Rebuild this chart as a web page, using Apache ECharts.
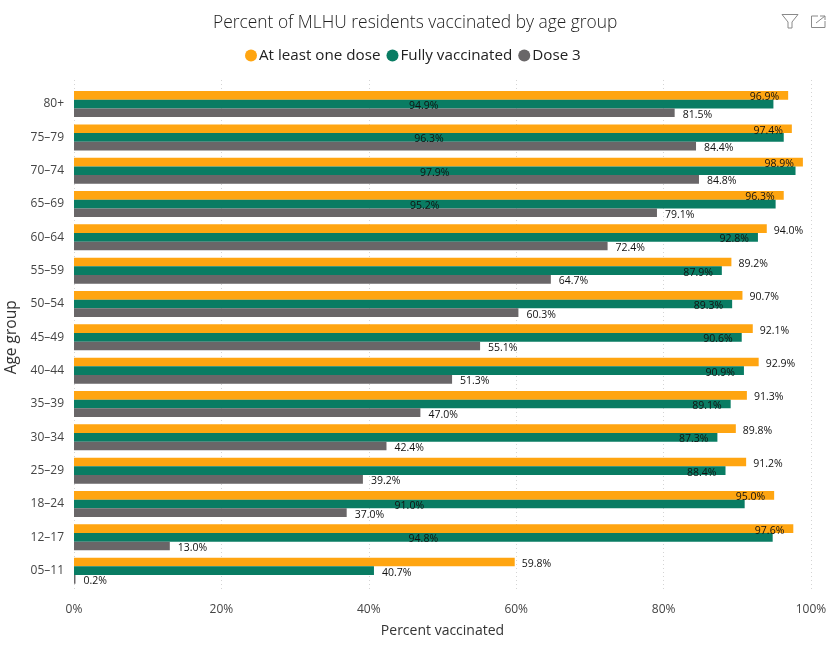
<!DOCTYPE html>
<html><head><meta charset="utf-8">
<style>html,body{margin:0;padding:0;background:#fff}#c{width:834px;height:648px}</style>
<script src="https://cdn.jsdelivr.net/npm/echarts@6/dist/echarts.min.js"></script>
</head><body><div id="c"></div>
<script>
const categories = ["80+","75–79","70–74","65–69","60–64","55–59","50–54","45–49","40–44","35–39","30–34","25–29","18–24","12–17","05–11"];
const atLeastOne = [96.9,97.4,98.9,96.3,94.0,89.2,90.7,92.1,92.9,91.3,89.8,91.2,95.0,97.6,59.8];
const fully = [94.9,96.3,97.9,95.2,92.8,87.9,89.3,90.6,90.9,89.1,87.3,88.4,91.0,94.8,40.7];
const dose3 = [81.5,84.4,84.8,79.1,72.4,64.7,60.3,55.1,51.3,47.0,42.4,39.2,37.0,13.0,0.2];

const FONT = '"Open Sans"';
const fmt = v => v.toFixed(1) + '%';
const lbl = (position, distance) => ({show:true, position, distance, offset:[0,2], color:'#111', fontSize:10.5, fontFamily:FONT, formatter:p=>fmt(p.value)});
const OUT = 8, INS = 9;
const orangeData = atLeastOne.map(v => ({value:v, label: v >= 95 ? lbl('insideRight',INS) : lbl('right',OUT-1)}));
const greenData = fully.map((v,i) => {
  const a = atLeastOne[i];
  const label = a >= 95 ? lbl('inside',0) : (a - v > 10 ? lbl('right',OUT) : lbl('insideRight',INS));
  return {value:v, label};
});
const greyData = dose3.map(v => ({value:v, label: lbl('right',OUT)}));
const bar = (name,color,data) => ({name,type:'bar',xAxisIndex:0,yAxisIndex:0,data,barGap:0,barCategoryGap:'22%',itemStyle:{color},animation:false});

const chart = echarts.init(document.getElementById('c'),null,{renderer:'canvas'});
const iconStroke = {stroke:'#8a8a8a',lineWidth:1,fill:'none'};
chart.setOption({
  animation:false,
  backgroundColor:'#fff',
  title:{text:'Percent of MLHU residents vaccinated by age group',left:213,top:15,padding:0,itemGap:0,
    textStyle:{fontFamily:FONT,fontWeight:300,fontSize:17.4,color:'#222'}},
  legend:{top:43,left:240,icon:'circle',itemWidth:12,itemHeight:12,itemGap:6,
    data:['At least one dose','Fully vaccinated','Dose 3'],
    textStyle:{fontFamily:FONT,fontSize:15.2,color:'#222',padding:[0,0,0,-3]}},
  grid:[
    {left:74,right:23,top:87.4,bottom:60.7,outerBoundsMode:'none'},
    {left:74,right:23,top:80,bottom:57,outerBoundsMode:'none'}
  ],
  xAxis:[
    {gridIndex:0,type:'value',min:0,max:100,interval:20,
     name:'Percent vaccinated',nameLocation:'middle',nameGap:37,
     nameTextStyle:{fontFamily:FONT,fontSize:14,color:'#333'},
     axisLabel:{formatter:v=>v+'%',fontFamily:FONT,fontSize:12,color:'#444',margin:16},
     axisLine:{show:false},axisTick:{show:false},splitLine:{show:false}},
    {gridIndex:1,type:'value',min:0,max:100,interval:20,
     axisLabel:{show:false},axisLine:{show:false},axisTick:{show:false},
     splitLine:{show:true,lineStyle:{color:'#d4d4d4',type:[1,3],width:1}}}
  ],
  yAxis:[
    {gridIndex:0,type:'category',data:categories,inverse:true,
     name:'Age group',nameLocation:'middle',nameGap:54,
     nameTextStyle:{fontFamily:FONT,fontSize:15.5,color:'#333'},
     axisLabel:{fontFamily:FONT,fontSize:12,color:'#444',margin:10},
     axisLine:{show:false},axisTick:{show:false},splitLine:{show:false}},
    {gridIndex:1,type:'category',data:categories,inverse:true,show:false}
  ],
  series:[
    bar('At least one dose','#FFA511',orangeData),
    bar('Fully vaccinated','#097C63',greenData),
    bar('Dose 3','#696668',greyData)
  ],
  graphic:[
    {type:'polyline',shape:{points:[[782,14.5],[798,14.5],[792,22],[792,28],[788,28],[788,22],[782,14.5]]},style:iconStroke,silent:true},
    {type:'polyline',shape:{points:[[818,16],[811.5,16],[811.5,27.5],[825,27.5],[825,21]]},style:iconStroke,silent:true},
    {type:'polyline',shape:{points:[[816,23],[825,16],[820,16]]},style:iconStroke,silent:true},
    {type:'polyline',shape:{points:[[825,16],[825,20]]},style:iconStroke,silent:true}
  ]
});
</script></body></html>
